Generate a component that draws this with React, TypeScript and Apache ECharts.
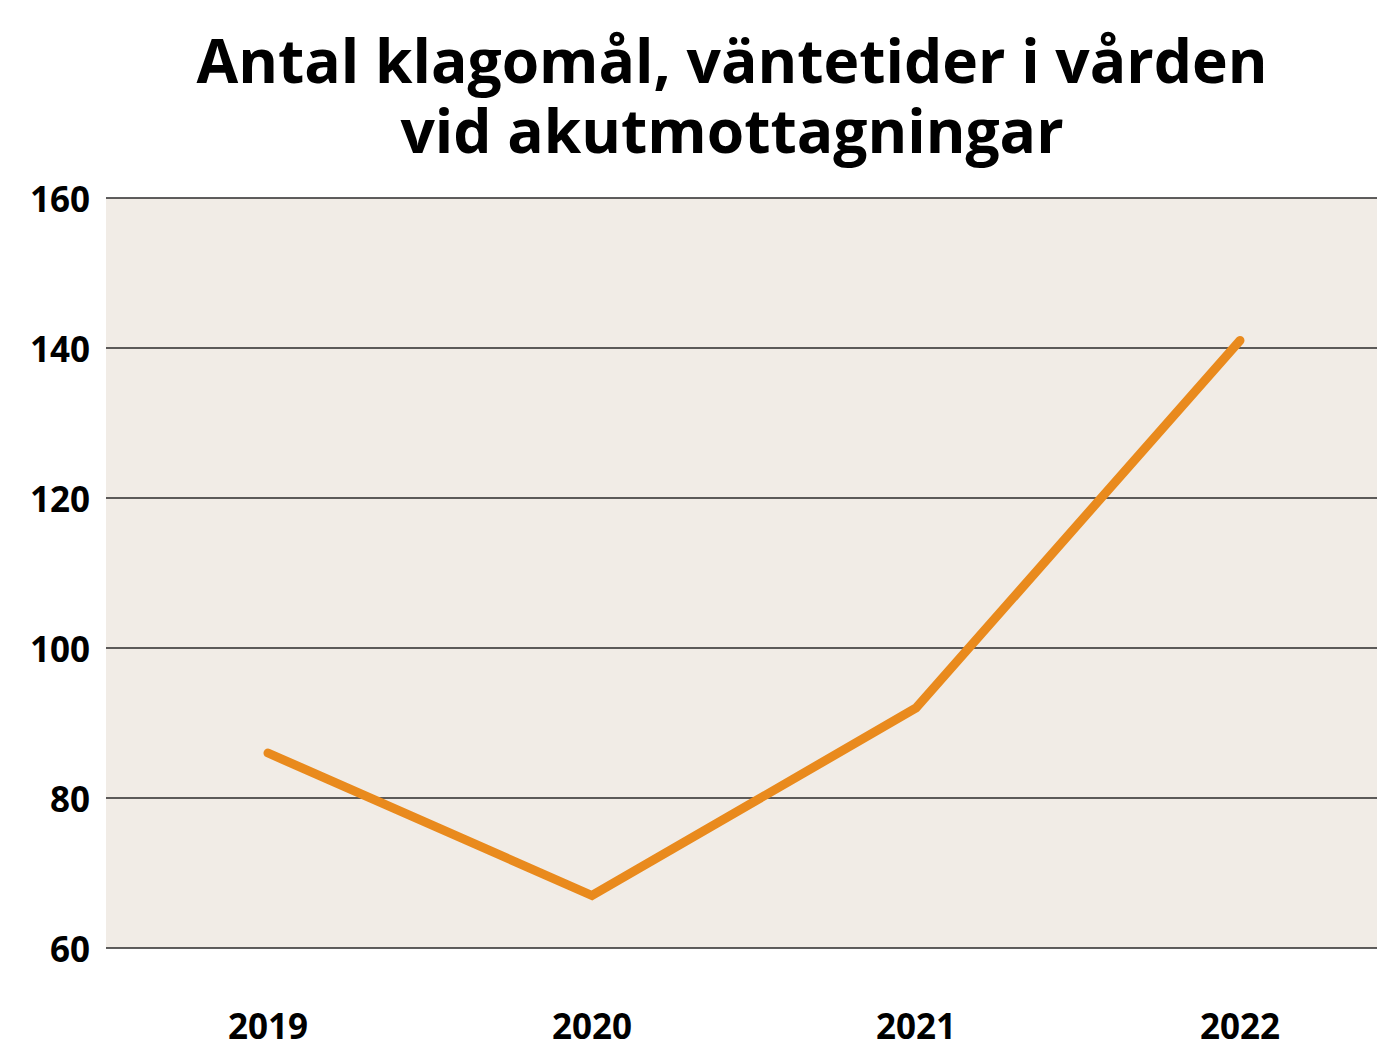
import React, { useEffect, useRef } from "react";
import * as echarts from "echarts";

const years = ["2019", "2020", "2021", "2022"];
const complaints = [86, 67, 92, 141];
const titleLines = ["Antal klagomål, väntetider i vården", "vid akutmottagningar"];

export default function App() {
  const ref = useRef<HTMLDivElement>(null);
  useEffect(() => {
    const chart = echarts.init(ref.current!, undefined, { renderer: "svg" });
    const font = "'Open Sans', 'Noto Sans', sans-serif";
    chart.setOption({
      animation: false,
      backgroundColor: "#ffffff",
      graphic: titleLines.map((t, i) => ({
        type: "text",
        x: 732,
        y: 59 + i * 70,
        style: {
          text: t,
          fontFamily: font,
          fontWeight: "bold",
          fontSize: 60.5,
          fill: "#000",
          textAlign: "center",
          textVerticalAlign: "middle",
        },
      })),
      grid: {
        left: 106,
        right: 0,
        top: 198,
        bottom: 94,
        show: true,
        backgroundColor: "#F1ECE6",
        borderWidth: 0,
      },
      xAxis: {
        type: "category",
        data: years,
        boundaryGap: true,
        axisLine: { show: false },
        axisTick: { show: false },
        axisLabel: {
          margin: 59,
          fontSize: 35,
          lineHeight: 36,
          fontWeight: "bold",
          fontFamily: font,
          color: "#000",
        },
      },
      yAxis: {
        type: "value",
        min: 60,
        max: 160,
        interval: 20,
        axisLine: { show: false },
        axisTick: { show: false },
        axisLabel: {
          margin: 16,
          fontSize: 35,
          fontWeight: "bold",
          fontFamily: font,
          color: "#000",
        },
        splitLine: { lineStyle: { color: "#2a2a2a", width: 1.5 } },
      },
      series: [
        {
          type: "line",
          data: complaints,
          symbol: "none",
          lineStyle: { color: "#E98A1D", width: 9, cap: "round", join: "miter" },
        },
      ],
    });
    return () => chart.dispose();
  }, []);
  return (
    <div
      style={{
        position: "absolute",
        left: 0,
        top: 0,
        width: 1377,
        height: 1043,
        overflow: "hidden",
      }}
    >
      <div ref={ref} style={{ width: 1402, height: 1043 }} />
    </div>
  );
}
